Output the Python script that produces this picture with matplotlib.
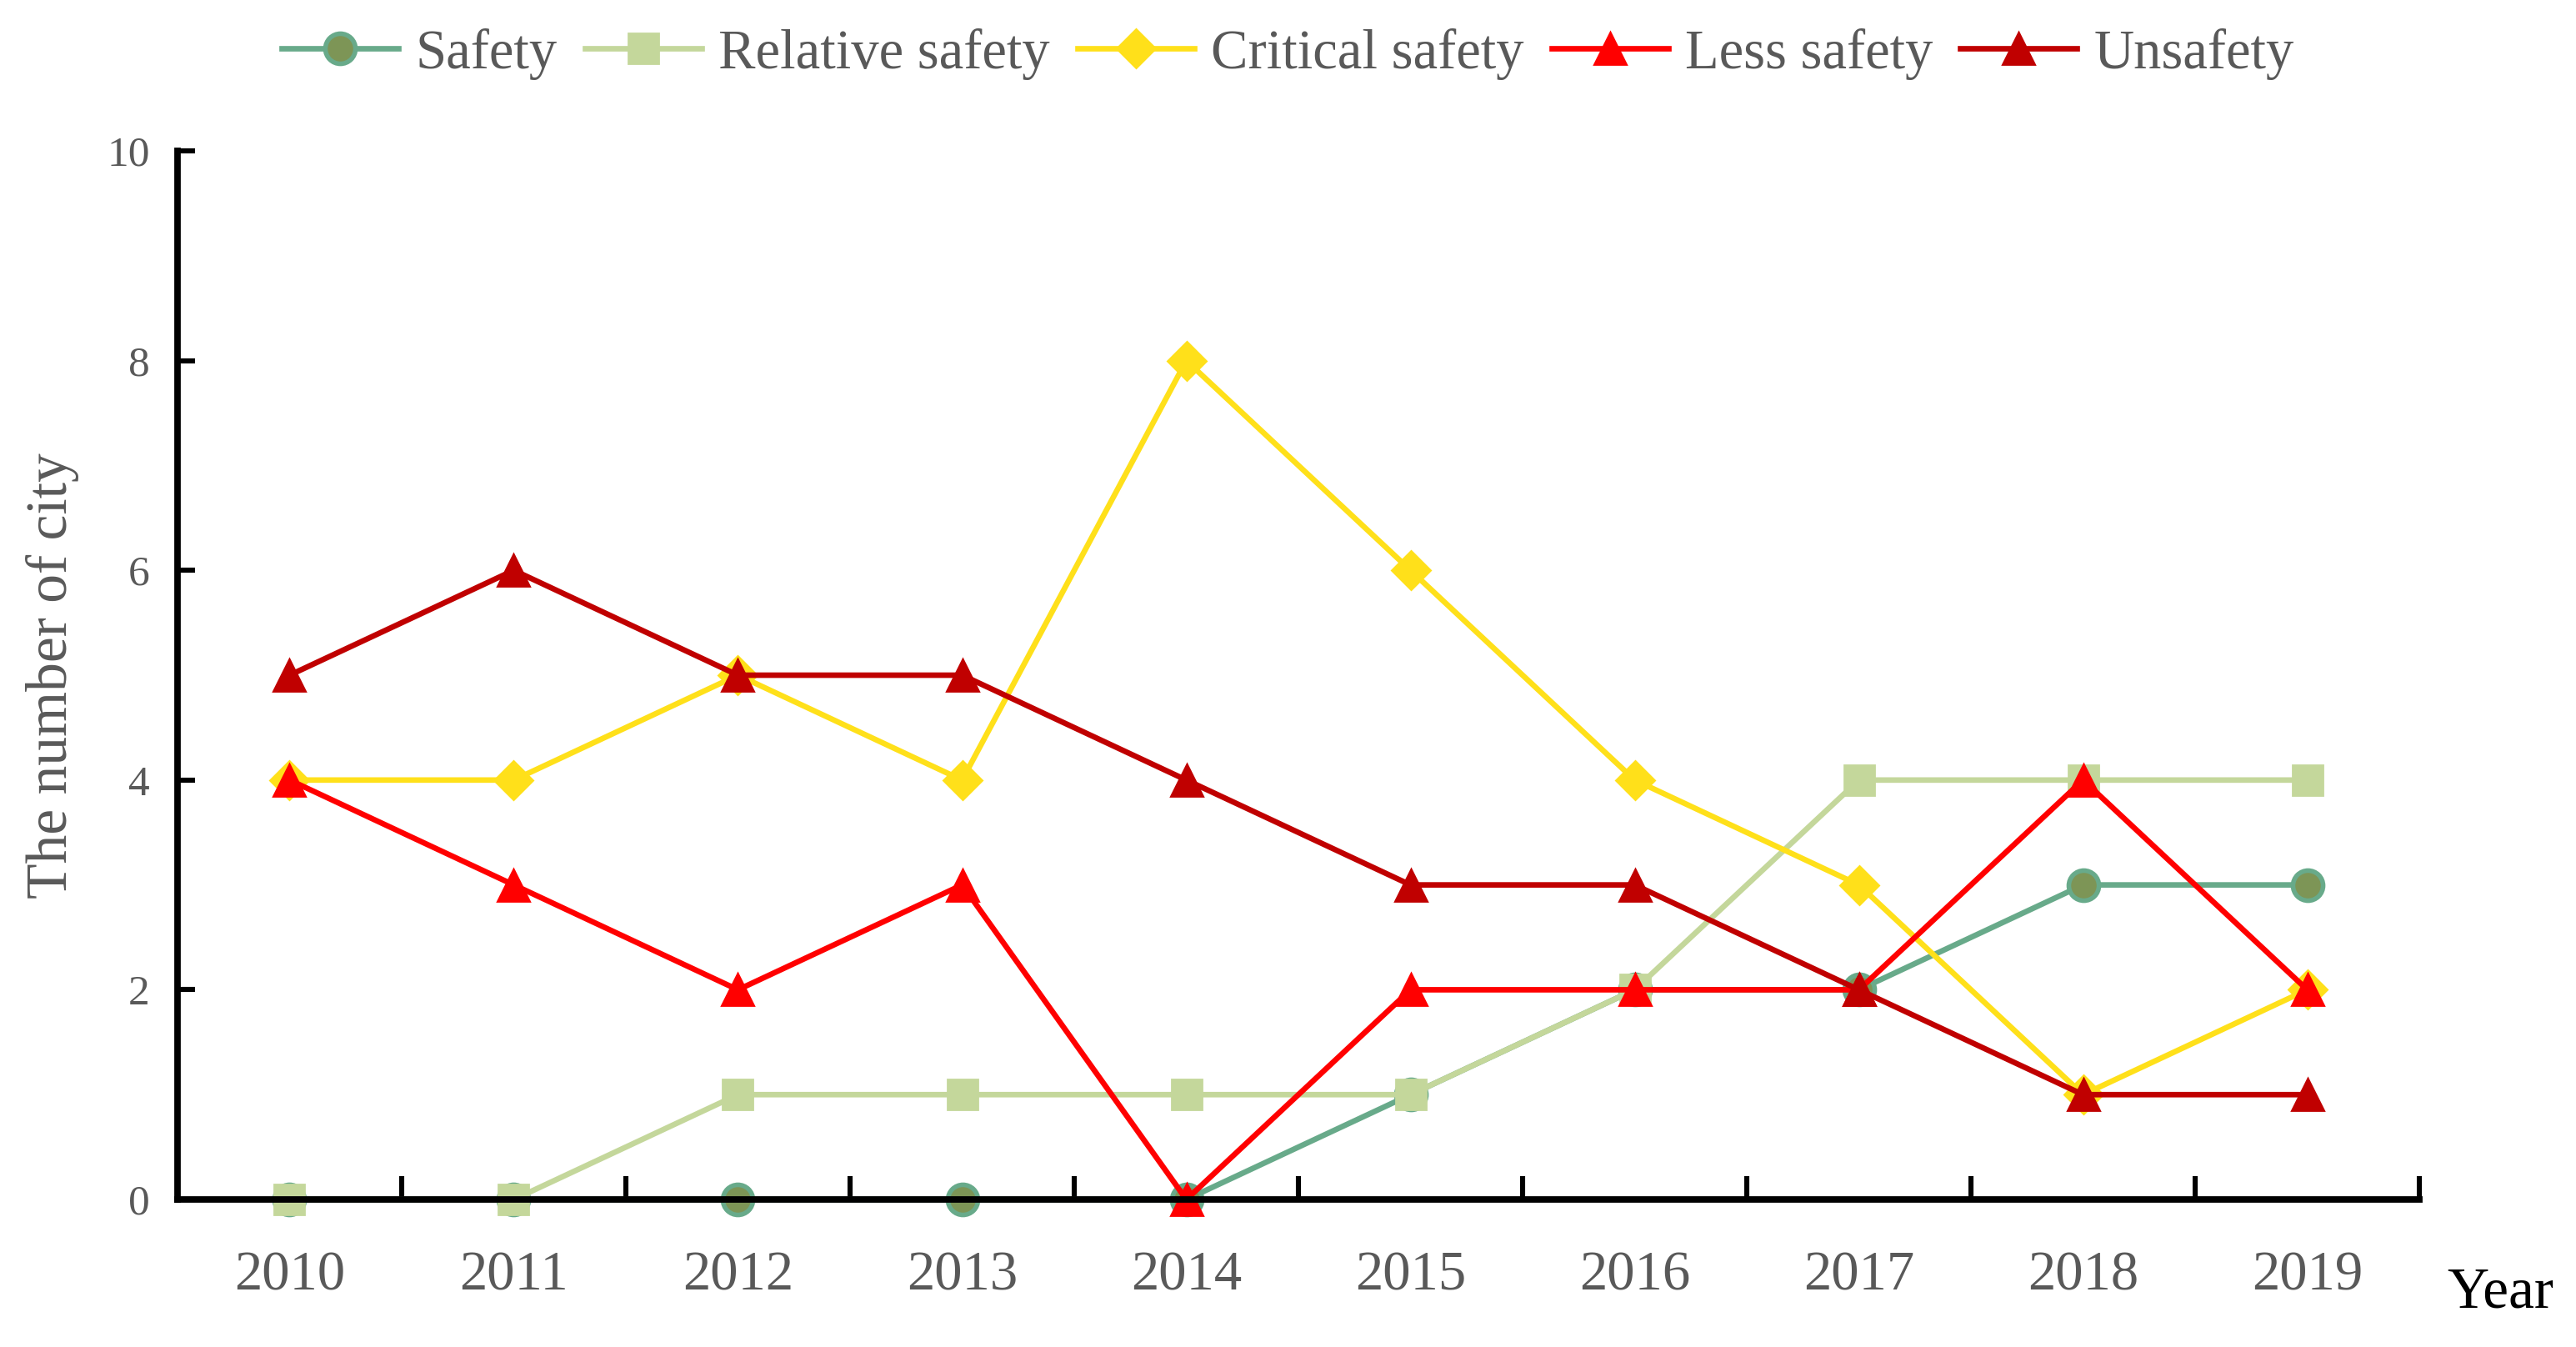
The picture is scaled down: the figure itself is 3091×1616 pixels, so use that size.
import matplotlib
matplotlib.use("Agg")
import matplotlib.pyplot as plt
import numpy as np

years = ["2010", "2011", "2012", "2013", "2014", "2015", "2016", "2017", "2018", "2019"]
safety = [0, 0, 0, 0, 0, 1, 2, 2, 3, 3]
relative_safety = [0, 0, 1, 1, 1, 1, 2, 4, 4, 4]
critical_safety = [4, 4, 5, 4, 8, 6, 4, 3, 1, 2]
less_safety = [4, 3, 2, 3, 0, 2, 2, 2, 4, 2]
unsafety = [5, 6, 5, 5, 4, 3, 3, 2, 1, 1]
series_names = ["Safety", "Relative safety", "Critical safety", "Less safety", "Unsafety"]
y_ticks = [0, 2, 4, 6, 8, 10]

plt.rcParams['font.family'] = ['Liberation Serif', 'DejaVu Serif']

fig = plt.figure(figsize=(15.455, 8.08), dpi=200)
ax = fig.add_axes([0.0689, 0.1095, 0.8703, 0.7785])

x = np.arange(len(years))
styles = [
    dict(color='#68aa8a', marker='o', mfc='#7d9556', mec='#68aa8a', ms=13, mew=2),
    dict(color='#c4d79b', marker='s', mfc='#c4d79b', mec='#c4d79b', ms=13),
    dict(color='#ffe01a', marker='D', mfc='#ffe01a', mec='#ffe01a', ms=11.5),
    dict(color='#ff0000', marker='^', mfc='#ff0000', mec='#ff0000', ms=14),
    dict(color='#c00000', marker='^', mfc='#c00000', mec='#c00000', ms=14),
]
data = [safety, relative_safety, critical_safety, less_safety, unsafety]
for name, vals, st in zip(series_names, data, styles):
    ax.plot(x, vals, lw=2.4, label=name, clip_on=False, **st)

ax.set_xlim(-0.5, len(years) - 0.5)
ax.set_ylim(0, 10)
ax.set_xticks(x)
ax.set_xticklabels(years)
ax.set_xticks(np.arange(-0.5, len(years)), minor=True)
ax.set_yticks(y_ticks)
ax.set_yticklabels([str(v) for v in y_ticks])

for s in ['top', 'right']:
    ax.spines[s].set_visible(False)
for s in ['left', 'bottom']:
    ax.spines[s].set_linewidth(2.8)
    ax.spines[s].set_color('black')

ax.tick_params(axis='x', which='major', length=0, pad=22, labelsize=24, labelcolor='#595959')
ax.tick_params(axis='x', which='minor', direction='in', length=10, width=2.2)
ax.tick_params(axis='y', which='major', direction='in', length=7.5, width=2.2, pad=12,
               labelsize=18.5, labelcolor='#595959')

fig.text(0.0204, 0.4985, "The number of city", rotation=90, ha='center', va='center',
         fontsize=25, color='#595959')
fig.text(0.9706, 0.040, "Year", ha='center', va='center', fontsize=25, color='black')

leg = fig.legend(loc='center', bbox_to_anchor=(0.5, 0.96), ncol=5, frameon=False,
                 fontsize=24, handlelength=2.1, handletextpad=0.3, columnspacing=0.5,
                 labelcolor='#595959')

fig.savefig("out.png", dpi=200, facecolor='white')
